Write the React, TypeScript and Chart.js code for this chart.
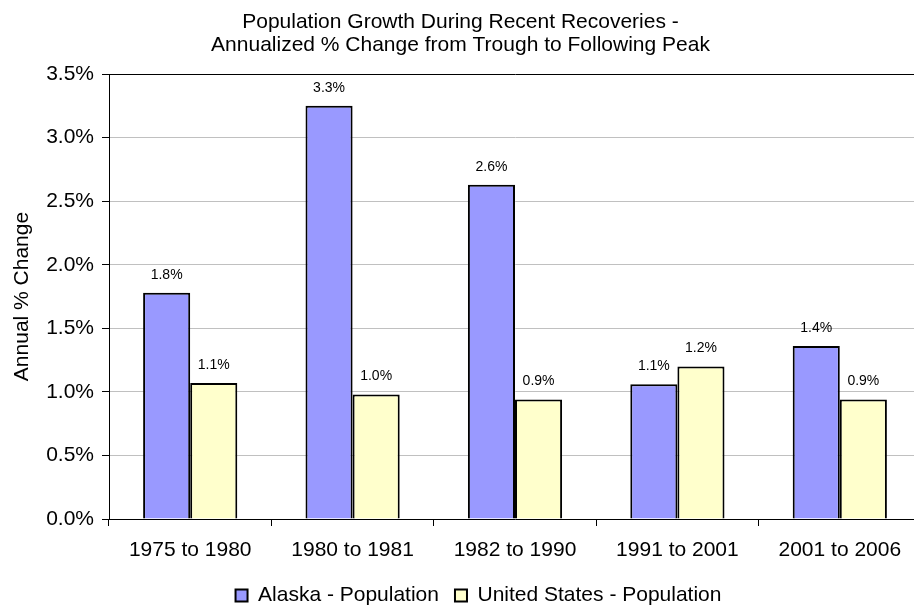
import React, { useEffect, useRef } from 'react';
import { Chart, registerables } from 'chart.js';

Chart.register(...registerables);

const titleLines = [
  'Population Growth During Recent Recoveries -',
  'Annualized % Change from Trough to Following Peak',
];
const yAxisTitle = 'Annual % Change';
const categories = ['1975 to 1980', '1980 to 1981', '1982 to 1990', '1991 to 2001', '2001 to 2006'];
const seriesNames = ['Alaska - Population', 'United States - Population'];
const alaskaValues = [1.78, 3.25, 2.63, 1.06, 1.36];
const usValues = [1.07, 0.98, 0.94, 1.2, 0.94];
const yTicks = [0, 0.5, 1.0, 1.5, 2.0, 2.5, 3.0, 3.5];

const FONT = "'Liberation Sans', Arial, sans-serif";

const dataLabelPlugin = {
  id: 'barValueLabels',
  afterLayout(chart: any) {
    const lg = chart.legend;
    if (lg) {
      lg.left += 18;
      lg.right += 18;
    }
  },
  afterDatasetsDraw(chart: any) {
    const ctx = chart.ctx;
    ctx.save();
    ctx.font = `14px ${FONT}`;
    ctx.fillStyle = '#000';
    ctx.textAlign = 'center';
    ctx.textBaseline = 'middle';
    chart.data.datasets.forEach((ds: any, i: number) => {
      const meta = chart.getDatasetMeta(i);
      meta.data.forEach((el: any, j: number) => {
        const v = ds.data[j] as number;
        ctx.fillText(v.toFixed(1) + '%', el.x, el.y - 18);
      });
    });
    ctx.restore();
  },
};

export default function App() {
  const ref = useRef<HTMLCanvasElement | null>(null);

  useEffect(() => {
    if (!ref.current) return;
    const chart = new Chart(ref.current, {
      type: 'bar',
      data: {
        labels: categories,
        datasets: [
          {
            label: seriesNames[0],
            data: alaskaValues,
            backgroundColor: '#9999FF',
            borderColor: '#000000',
            borderWidth: 2,
            categoryPercentage: 0.58,
            barPercentage: 1.0,
          },
          {
            label: seriesNames[1],
            data: usValues,
            backgroundColor: '#FFFFCC',
            borderColor: '#000000',
            borderWidth: 2,
            categoryPercentage: 0.58,
            barPercentage: 1.0,
          },
        ],
      },
      options: {
        responsive: false,
        animation: false,
        devicePixelRatio: 1,
        layout: { padding: { left: 0, right: 1, top: 0, bottom: 0 } },
        plugins: {
          title: {
            display: true,
            text: titleLines,
            color: '#000',
            font: { family: FONT, size: 21, weight: 'normal', lineHeight: 1.12 },
            padding: { top: 10, bottom: 17 },
          },
          legend: {
            display: true,
            position: 'bottom',
            labels: {
              color: '#000',
              font: { family: FONT, size: 21 },
              boxWidth: 12,
              boxHeight: 12,
              padding: 16,
            },
          },
          tooltip: { enabled: false },
        },
        scales: {
          x: {
            type: 'category',
            afterFit: (scale: any) => {
              scale.height = 50;
            },
            grid: {
              display: true,
              drawOnChartArea: false,
              drawTicks: true,
              tickLength: 7,
              offset: true,
              tickColor: '#000',
            },
            border: { display: true, color: '#000', width: 1 },
            ticks: {
              color: '#000',
              font: { family: FONT, size: 21 },
              padding: 12,
              maxRotation: 0,
              autoSkip: false,
            },
          },
          y: {
            type: 'linear',
            min: 0,
            max: 3.5,
            afterFit: (scale: any) => {
              scale.width = 109;
            },
            afterBuildTicks: (scale: any) => {
              scale.ticks = yTicks.map((v) => ({ value: v }));
            },
            grid: {
              color: (c: any) => (c.tick && c.tick.value === 3.5 ? '#000' : '#c0c0c0'),
              tickColor: '#000',
              tickLength: 7,
              lineWidth: 1,
            },
            border: { display: true, color: '#000', width: 1 },
            ticks: {
              color: '#000',
              font: { family: FONT, size: 21 },
              padding: 8,
              callback: (v: any) => Number(v).toFixed(1) + '%',
            },
            title: {
              display: true,
              text: yAxisTitle,
              color: '#000',
              font: { family: FONT, size: 21 },
              padding: { top: 10, bottom: 0 },
            },
          },
        },
      },
      plugins: [dataLabelPlugin],
    });
    return () => chart.destroy();
  }, []);

  return (
    <div
      style={{
        position: 'fixed',
        left: 0,
        top: 0,
        width: 914,
        height: 607,
        overflow: 'hidden',
        background: '#fff',
      }}
    >
      <canvas ref={ref} width={922} height={616} style={{ display: 'block', width: 922, height: 616 }} />
    </div>
  );
}
